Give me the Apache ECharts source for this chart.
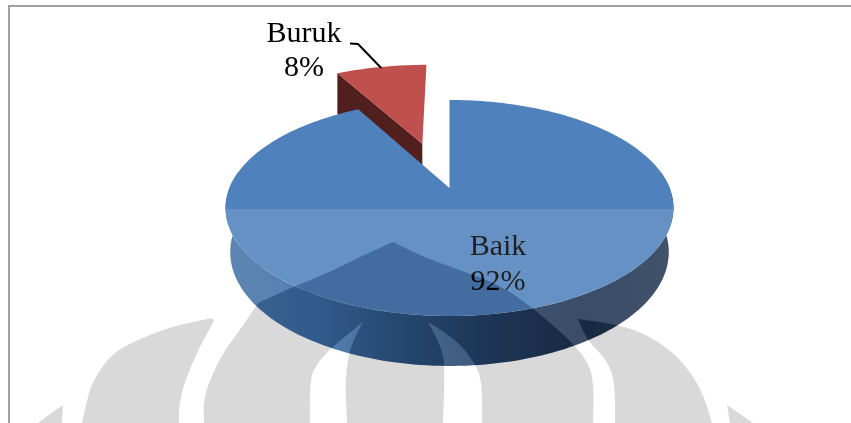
<!DOCTYPE html>
<html>
<head>
<meta charset="utf-8">
<style>html,body{margin:0;padding:0;background:#fff}#c{width:851px;height:423px}</style>
<script src="https://cdn.jsdelivr.net/npm/echarts@6/dist/echarts.min.js"></script>
</head>
<body>
<div id="c"></div>
<script>
// Share of responses per rating, drawn as a tilted pie with one pulled-out slice
const categories = ['Baik', 'Buruk'];
const shares = [92, 8];

const FONT = '"Liberation Serif","Times New Roman",serif';
const CX = 449.5;
const PERSPECTIVE = 0.185;
const TOP = { y0: 188, a: 104.3, b: 220.1 };
const BOTTOM = { y0: 231, a: 110, b: 215.5 };
const PULL = 0.48;
const PULLED_RADIUS = 1.05;

// Circle in the ground plane (X right, Z away from the viewer) to screen pixels
function project(X, Z, level) {
  const w = 1 + PERSPECTIVE * Z;
  return [CX + level.b * X / w, level.y0 - level.a * Z / w];
}
function arc(from, to, level, ox, oz, r) {
  const pts = [];
  const n = Math.max(8, Math.ceil(Math.abs(to - from) * 40));
  for (let i = 0; i <= n; i++) {
    const t = from + (to - from) * i / n;
    pts.push(project(ox + r * Math.sin(t), oz + r * Math.cos(t), level));
  }
  return pts;
}

const total = shares.reduce((s, v) => s + v, 0);
const TAU = Math.PI * 2;
const FRONT_FROM = Math.PI * 0.45;
const FRONT_TO = Math.PI * 1.55;

function blueSlice(value) {
  const end = value / total * TAU;
  const top = [project(0, 0, TOP)].concat(arc(0, end, TOP, 0, 0, 1));
  const wallTop = arc(FRONT_FROM, FRONT_TO, TOP, 0, 0, 1);
  const wallBottom = arc(FRONT_FROM, FRONT_TO, BOTTOM, 0, 0, 1).reverse();
  return [
    {
      type: 'polygon', z2: 4,
      shape: { points: wallTop.concat(wallBottom) },
      style: {
        fill: new echarts.graphic.LinearGradient(0, 0, 1, 0, [
          { offset: 0, color: '#4674A7' },
          { offset: 0.2, color: '#3A6CA6' },
          { offset: 0.4, color: '#2B5382' },
          { offset: 0.6, color: '#233E63' },
          { offset: 0.8, color: '#1D3250' },
          { offset: 1, color: '#263955' }
        ])
      }
    },
    { type: 'polygon', z2: 5, shape: { points: top }, style: { fill: '#4F81BD' } }
  ];
}

function redSlice(value, startValue) {
  const a0 = startValue / total * TAU;
  const a1 = a0 + value / total * TAU;
  const mid = (a0 + a1) / 2 - TAU * 0.005;
  const ox = Math.sin(mid) * PULL;
  const oz = Math.cos(mid) * PULL;
  const r = PULLED_RADIUS;
  const apexTop = project(ox, oz, TOP);
  const outerTop = project(ox + r * Math.sin(a0), oz + r * Math.cos(a0), TOP);
  // The cut face hangs straight down on screen; the large slice hides its lower edge
  const drop = project(ox, oz, BOTTOM)[1] - apexTop[1];
  const top = [apexTop].concat(arc(a0, a1, TOP, ox, oz, r));
  const midA = (a0 + a1) / 2;
  const tip = project(ox + r * Math.sin(midA), oz + r * Math.cos(midA), TOP);
  return [
    {
      type: 'polygon', z2: 1,
      shape: { points: [apexTop, outerTop, [outerTop[0], outerTop[1] + drop], [apexTop[0], apexTop[1] + drop]] },
      style: { fill: '#511F1E' }
    },
    { type: 'polygon', z2: 2, shape: { points: top }, style: { fill: '#C0504D' } },
    {
      type: 'polyline', z2: 3,
      shape: { points: [[350, 43.5], [358, 44], [tip[0], tip[1] + 1]] },
      style: { stroke: '#000', lineWidth: 2, fill: null }
    }
  ];
}

function label(name, value, x, y, lineHeight) {
  return {
    type: 'text', z2: 6,
    style: {
      text: name + '\n' + value + '%',
      x, y,
      fill: '#000',
      font: '30px ' + FONT,
      lineHeight,
      align: 'center',
      verticalAlign: 'top'
    }
  };
}

// Rounds a run of outline points, keeping its two ends as corners
function round(run) {
  let p = run;
  for (let k = 0; k < 3; k++) {
    const out = [p[0]];
    for (let i = 0; i < p.length - 1; i++) {
      const a = p[i], b = p[i + 1];
      if (i > 0) out.push([a[0] * 0.75 + b[0] * 0.25, a[1] * 0.75 + b[1] * 0.25]);
      if (i < p.length - 2) out.push([a[0] * 0.25 + b[0] * 0.75, a[1] * 0.25 + b[1] * 0.75]);
    }
    out.push(p[p.length - 1]);
    p = out;
  }
  return p;
}
function outline(...runs) {
  return [].concat(...runs.map(round));
}

// University crest behind the pie: arched lobes in the lower part of the page
const crest = [
  [[38, 423], [50, 414], [63, 405], [62, 423]],
  outline(
    [[82, 423], [90, 387], [100, 370], [113, 353], [137, 340], [170, 327], [212, 318]],
    [[214, 321], [198, 350], [184, 383], [179, 407], [179, 423]]
  ),
  outline(
    [[204, 423], [203, 397], [220, 357], [242, 327], [258, 303]],
    [[258, 303], [293, 287], [330, 272], [360, 257], [393, 242]],
    [[393, 242], [423, 257], [460, 270], [500, 285], [533, 308], [573, 343], [590, 365], [594, 390], [593, 423]],
    [[482, 423], [482, 380], [473, 360], [456, 340], [428, 322]],
    [[428, 322], [440, 345], [445, 363], [443, 423]],
    [[347, 423], [345, 380], [350, 347], [363, 322]],
    [[363, 322], [332, 347], [316, 365], [310, 380], [310, 423]]
  ),
  outline(
    [[578, 319], [620, 325], [650, 336], [680, 358], [702, 390], [712, 423]],
    [[615, 423], [615, 383], [607, 360], [587, 340], [578, 319]]
  ),
  [[727, 405], [740, 414], [753, 423], [730, 423]]
];
const VEIL_TOP = 209;

function signedArea(p) {
  let s = 0;
  for (let i = 0; i < p.length; i++) {
    const q = p[(i + 1) % p.length];
    s += p[i][0] * q[1] - q[0] * p[i][1];
  }
  return s;
}
function toPath(p) {
  return 'M' + p.map(q => q[0] + ' ' + q[1]).join('L') + 'Z';
}
// Pale veil over the lower half with the crest cut out of it
function veilPath() {
  let d = 'M0 ' + VEIL_TOP + 'L851 ' + VEIL_TOP + 'L851 423L0 423Z';
  crest.forEach(p => {
    const hole = signedArea(p) > 0 ? p.slice().reverse() : p;
    d += toPath(hole);
  });
  return d;
}

const chart = echarts.init(document.getElementById('c'), null, { renderer: 'canvas' });
chart.setOption({
  animation: false,
  backgroundColor: '#fff',
  series: [
    {
      type: 'custom',
      coordinateSystem: 'none',
      z: 2,
      silent: true,
      data: categories.map((name, i) => ({ name, value: [shares[i], i] })),
      renderItem(params, api) {
        const v = api.value(0);
        const i = api.value(1);
        if (i === 0) {
          return { type: 'group', children: blueSlice(v).concat([label(categories[0], v, 498, 230, 35)]) };
        }
        return { type: 'group', children: redSlice(v, -v).concat([label(categories[1], v, 304, 17, 34)]) };
      }
    },
    {
      type: 'custom',
      coordinateSystem: 'none',
      z: 5,
      silent: true,
      data: [[0]],
      renderItem() {
        const children = [{
          type: 'path',
          shape: { pathData: veilPath(), x: 0, y: VEIL_TOP, width: 851, height: 423 - VEIL_TOP, layout: 'cover' },
          style: { fill: 'rgba(255,255,255,0.13)' }
        }];
        crest.forEach(p => {
          children.push({ type: 'polygon', shape: { points: p }, style: { fill: 'rgba(0,0,0,0.15)' } });
        });
        children.push({
          type: 'polyline',
          shape: { points: [[9, 423], [9, 6], [851, 6]] },
          style: { stroke: '#a0a0a0', lineWidth: 2, fill: null }
        });
        return { type: 'group', children };
      }
    }
  ]
});
</script>
</body>
</html>
